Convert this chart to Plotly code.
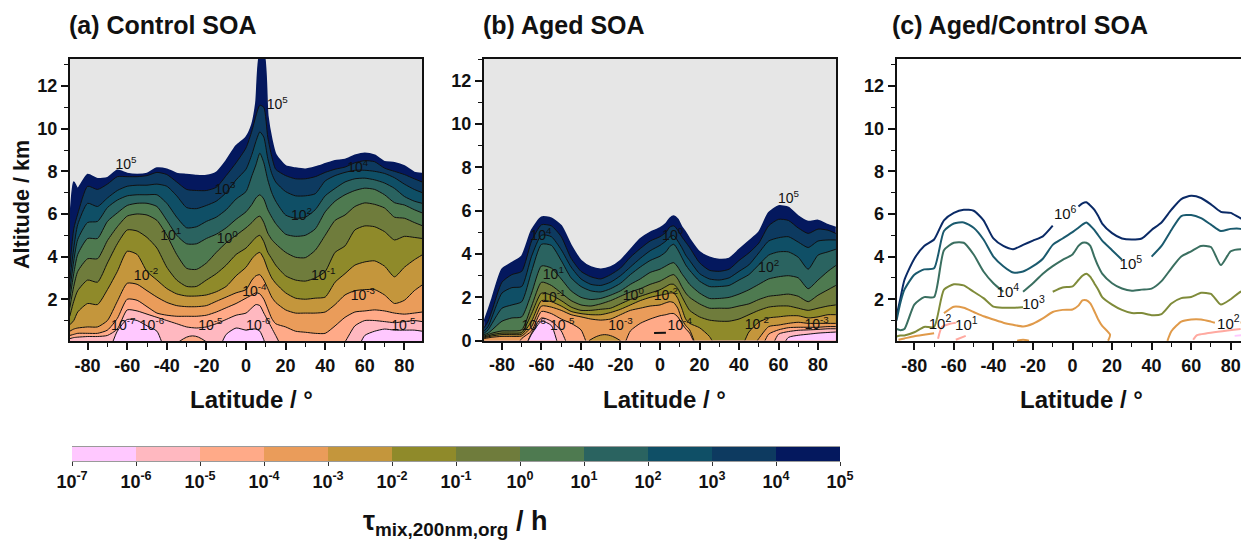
import plotly.graph_objects as go

W, H = 1241, 541
LAT = [-89,-87,-85,-80,-75,-70,-65,-60,-55,-50,-45,-40,-35,-30,-25,-20,-15,-10,-5,0,3,5,7,9,11,13,15,20,25,30,35,40,45,50,55,60,65,70,75,80,85,89]

X_TICKS = [-80,-60,-40,-20,0,20,40,60,80]
X_TICK_TEXT = ["-80","-60","-40","-20","0","20","40","60","80"]
Y_TICKS = [2,4,6,8,10,12]
Y_TICKS_B = [0,2,4,6,8,10,12]
BAR_EXP = [-7,-6,-5,-4,-3,-2,-1,0,1,2,3,4]
BAR_COLORS = ["#ffc8ff","#ffb8c0","#ffaa88","#ea9c5a","#c4963c","#8f8a2a","#6f7c3c","#4e7a50","#2a6360","#0f4f66","#0d3a60","#04185e"]
BAR_TICKS = [-7,-6,-5,-4,-3,-2,-1,0,1,2,3,4,5]

# Panel (a): altitude of each contour level per latitude
A_L5 = [5.5,7.5,7.2,7.85,7.65,7.7,8.05,7.9,7.85,7.9,8.15,8.1,7.9,7.85,7.8,7.8,7.95,8.5,9.2,9.6,10.2,11.2,13.5,13.5,10.6,9.5,8.8,8.25,8.15,8.1,8.2,8.35,8.5,8.55,8.75,8.85,8.75,8.45,8.4,8.25,7.95,7.9]
A_L4 = [3.5,5.3,6.0,7.3,7.15,7.4,7.75,7.75,7.75,7.8,7.95,7.85,7.5,7.15,7.1,7.1,7.25,7.8,8.4,9.1,9.9,10.6,11.1,11.0,9.6,8.7,8.1,7.8,7.65,7.65,7.75,7.95,8.1,8.2,8.4,8.5,8.45,8.15,8.0,7.85,7.65,7.5]
A_L3 = [2.9,4.4,5.5,6.5,6.35,6.75,7.1,7.3,7.35,7.35,7.4,7.3,6.85,6.3,6.25,6.4,6.6,7.0,7.6,8.1,8.8,9.4,9.85,9.6,8.6,7.9,7.5,7.05,6.85,6.85,6.95,7.55,7.8,7.95,8.05,8.05,8.0,7.9,7.7,7.4,7.15,7.0]
A_L2 = [2.4,3.8,4.8,5.6,5.65,6.3,6.65,6.85,6.9,6.9,6.9,6.5,5.85,5.35,5.4,5.65,5.85,6.2,6.7,7.05,7.8,8.3,8.85,8.4,7.6,7.0,6.6,5.95,5.8,5.85,6.2,6.85,7.2,7.5,7.65,7.68,7.6,7.45,7.2,6.82,6.6,6.5]
A_L1 = [2.0,3.2,4.1,4.85,4.85,5.65,6.05,6.4,6.5,6.5,6.35,5.7,5.0,4.6,4.6,4.85,5.05,5.35,5.75,6.1,6.45,6.75,6.9,6.7,6.2,5.85,5.55,5.05,4.95,5.0,5.3,6.1,6.6,6.9,7.1,7.21,7.15,6.9,6.53,6.42,6.2,6.05]
A_L0 = [1.6,2.6,3.3,3.9,3.9,4.75,5.4,5.9,6.0,5.95,5.7,5.0,4.1,3.45,3.4,3.7,4.2,4.65,5.0,5.35,5.6,5.8,5.9,5.6,5.1,4.8,4.6,4.2,3.97,3.95,4.3,5.0,5.7,5.95,6.35,6.52,6.45,6.28,5.85,5.8,5.6,5.45]
A_LM1 = [1.2,1.9,2.4,2.9,2.8,3.7,4.6,5.25,5.2,4.9,4.4,3.5,2.9,2.6,2.6,2.9,3.2,3.6,4.1,4.4,4.7,4.9,5.0,4.7,4.2,3.9,3.6,3.1,2.9,2.85,3.0,3.3,4.2,4.5,5.25,5.44,5.4,5.17,4.78,4.95,4.9,4.85]
A_LM2 = [0.8,1.0,1.4,1.8,1.75,2.45,3.3,4.25,4.1,3.3,2.9,2.5,2.25,2.15,2.15,2.2,2.35,2.6,3.1,3.5,3.9,4.1,4.2,3.9,3.4,3.0,2.75,2.3,2.05,2.0,2.05,2.1,2.8,3.2,3.6,3.75,3.8,3.55,3.05,3.5,3.85,4.08]
A_LM3 = [0.5,0.6,0.65,0.7,0.7,1.0,1.9,2.75,2.7,2.4,2.1,1.85,1.7,1.65,1.65,1.7,1.9,2.1,2.3,2.45,2.9,3.1,3.15,2.9,2.5,2.1,1.85,1.5,1.35,1.35,1.35,1.4,1.75,2.2,2.4,2.45,2.45,2.2,1.8,1.95,2.4,2.67]
A_LM4 = [0.3,0.35,0.4,0.4,0.4,0.55,1.1,2.0,1.95,1.65,1.35,1.25,1.2,1.2,1.2,1.25,1.4,1.6,1.8,2.05,2.2,2.3,2.25,2.0,1.55,1.1,0.85,0.7,0.5,0.45,0.4,0.4,0.75,1.15,1.4,1.45,1.5,1.45,1.35,1.3,1.35,1.4]
A_LM5 = [0.15,0.2,0.22,0.25,0.25,0.3,0.6,1.5,1.45,1.3,1.15,1.0,0.85,0.7,0.65,0.7,0.85,1.05,1.25,1.35,1.6,1.75,1.7,1.35,1.0,0.65,0.3,-0.5,-0.5,-0.5,-0.5,-0.5,-0.5,0.0,0.75,1.0,1.0,0.95,0.9,0.95,1.0,0.95]
A_LM6 = [-0.5,-0.5,-0.5,-0.5,-0.5,-0.5,0.5,1.05,1.0,0.75,0.5,-0.5,-0.5,-0.5,-0.5,-0.5,-0.5,0.35,0.65,0.55,0.6,0.6,0.5,0.1,-0.5,-0.5,-0.5,-0.5,-0.5,-0.5,-0.5,-0.5,-0.5,-0.5,-0.5,0.3,0.5,0.6,0.55,0.55,0.55,0.5]
A_HUMP_LAT = [-34,-30,-27,-24,-20]
A_HUMP_ALT = [0.0,0.22,0.28,0.22,0.0]

# Panel (b)
B_L5 = [0.9,1.4,1.95,3.3,3.6,3.9,5.1,5.7,5.65,5.3,4.4,3.7,3.4,3.3,3.4,3.7,4.2,4.7,5.0,5.2,5.4,5.65,5.75,5.6,5.25,5.0,4.7,4.1,3.85,3.75,3.8,4.2,4.6,5.0,5.9,6.22,6.15,5.75,5.5,5.55,5.35,5.22]
B_L4 = [0.6,0.9,1.4,2.7,3.05,3.2,4.6,5.35,5.3,4.8,3.8,3.2,2.95,2.85,3.05,3.35,3.85,4.25,4.6,4.8,5.0,5.25,5.3,5.1,4.8,4.55,4.3,3.6,3.25,3.2,3.3,3.7,4.05,4.5,5.3,5.6,5.55,5.2,4.95,5.15,5.1,4.95]
B_L3 = [0.45,0.65,1.1,2.2,2.45,2.5,3.9,4.87,4.8,4.2,3.4,2.85,2.6,2.55,2.7,3.0,3.4,3.8,4.15,4.4,4.6,4.8,4.85,4.6,4.3,3.95,3.7,3.1,2.85,2.8,2.9,3.2,3.5,4.05,4.6,4.75,4.8,4.55,4.3,4.6,4.65,4.65]
B_L2 = [0.35,0.5,0.8,1.5,1.65,1.8,3.2,4.45,4.4,3.7,2.9,2.5,2.3,2.25,2.4,2.65,3.05,3.4,3.7,3.9,4.1,4.35,4.45,4.2,3.85,3.5,3.25,2.75,2.5,2.5,2.55,2.8,3.05,3.5,3.95,4.1,4.1,3.85,3.3,3.95,4.1,4.22]
B_L1 = [0.28,0.35,0.5,0.9,1.05,1.1,2.2,3.45,3.35,2.85,2.3,2.0,1.9,1.95,2.1,2.3,2.6,2.85,3.15,3.3,3.45,3.55,3.6,3.4,3.1,2.85,2.6,2.2,1.95,1.95,2.0,2.15,2.35,2.6,2.85,2.95,3.0,2.9,2.4,2.8,3.2,3.47]
B_L0 = [0.22,0.28,0.35,0.45,0.45,0.5,1.6,2.7,2.55,2.2,1.85,1.65,1.6,1.7,1.85,2.05,2.25,2.4,2.6,2.75,2.9,3.0,3.05,2.85,2.5,2.2,2.0,1.7,1.5,1.5,1.5,1.6,1.7,1.9,2.05,2.1,2.15,2.05,1.8,2.1,2.35,2.55]
B_LM1 = [0.18,0.22,0.28,0.35,0.35,0.38,1.25,2.2,2.1,1.85,1.55,1.4,1.4,1.45,1.5,1.7,1.9,2.05,2.2,2.35,2.5,2.6,2.6,2.4,2.05,1.7,1.4,1.1,0.95,0.9,0.9,1.0,1.2,1.4,1.55,1.6,1.6,1.5,1.4,1.5,1.6,1.65]
B_LM2 = [0.14,0.18,0.22,0.28,0.28,0.3,0.9,1.85,1.8,1.6,1.35,1.25,1.2,1.2,1.3,1.45,1.65,1.85,2.0,2.1,2.15,2.2,2.2,1.95,1.5,1.0,0.8,0.6,0.2,-0.5,-0.5,-0.5,0.4,0.85,1.05,1.1,1.15,1.15,1.05,1.1,1.2,1.2]
B_LM3 = [0.1,0.13,0.16,0.2,0.2,0.22,0.65,1.6,1.55,1.4,1.2,1.1,1.0,0.95,1.0,1.2,1.4,1.5,1.6,1.65,1.75,1.8,1.75,1.5,1.0,0.7,0.5,-0.5,-0.5,-0.5,-0.5,-0.5,-0.5,0.1,0.65,0.72,0.8,0.85,0.8,0.8,0.8,0.8]
B_LM4 = [-0.5,-0.5,-0.5,-0.5,-0.5,0.1,0.45,1.35,1.25,1.0,0.8,0.5,-0.5,-0.5,-0.5,-0.5,0.45,0.8,1.0,1.15,1.2,1.25,1.25,1.1,0.8,0.55,0.35,-0.5,-0.5,-0.5,-0.5,-0.5,-0.5,-0.5,0.3,0.5,0.6,0.62,0.62,0.62,0.65,0.65]
B_LM5 = [-0.5,-0.5,-0.5,-0.5,-0.5,-0.5,0.35,1.05,0.9,0.45,-0.5,-0.5,-0.5,-0.5,-0.5,-0.5,-0.5,-0.5,-0.5,-0.5,-0.5,-0.5,-0.5,-0.5,-0.5,-0.5,-0.5,-0.5,-0.5,-0.5,-0.5,-0.5,-0.5,-0.5,-0.5,0.3,0.42,0.48,0.5,0.52,0.55,0.55]
B_LM6 = [-0.5,-0.5,-0.5,-0.5,-0.5,-0.5,0.3,0.9,0.7,-0.5,-0.5,-0.5,-0.5,-0.5,-0.5,-0.5,-0.5,-0.5,-0.5,-0.5,-0.5,-0.5,-0.5,-0.5,-0.5,-0.5,-0.5,-0.5,-0.5,-0.5,-0.5,-0.5,-0.5,-0.5,-0.5,-0.5,0.15,0.25,0.3,0.35,0.38,0.4]
B_HUMP_LAT = [-36,-32,-28,-24,-20]
B_HUMP_ALT = [0.0,0.2,0.28,0.2,0.0]
B_DASH_LAT = [-3,3]
B_DASH_ALT = [0.35,0.37]

# Panel (c)
C_L6 = [1.2,2.05,2.9,3.9,4.5,4.8,5.7,6.05,6.2,6.15,5.7,4.85,4.5,4.35,4.55,4.75,4.95,5.45,None,None,6.35,6.5,6.55,6.4,6.2,5.9,5.55,5.1,4.85,4.8,4.85,5.25,5.6,6.2,6.7,6.85,6.75,6.45,6.1,6.05,5.8,5.7]
C_L5 = [1.0,1.85,2.45,3.15,3.4,3.45,5.2,5.55,5.6,5.35,4.8,4.0,3.55,3.25,3.3,3.55,3.9,4.55,4.85,5.15,5.35,5.5,5.6,5.45,5.25,5.0,4.75,4.3,3.85,None,None,4.0,4.5,5.25,5.9,5.95,5.8,5.5,5.2,5.3,5.3,5.1]
C_L4 = [0.6,0.55,0.6,1.75,2.1,2.1,4.3,4.65,4.65,4.1,3.3,2.75,2.35,None,2.35,2.75,3.2,3.55,3.85,4.1,4.5,4.65,4.65,4.5,4.0,3.55,3.2,2.75,2.5,2.4,2.45,2.5,2.85,3.45,4.0,4.25,4.5,4.45,3.6,4.25,4.35,4.3]
C_L3 = [0.25,0.3,0.3,0.45,0.7,0.7,2.45,2.7,2.65,2.35,2.05,1.65,1.6,1.6,1.62,None,None,2.35,2.55,2.6,2.9,3.1,3.2,3.05,2.75,2.45,2.1,1.75,1.5,1.35,1.35,1.25,1.3,1.8,2.05,2.1,2.3,2.25,1.75,2.0,2.35,2.45]
C_L2A_LAT = [-88,-85,-80,-76,-70]
C_L2A = [0.1,0.16,0.26,0.32,0.4]
C_L2B_LAT = [-65,-60,-55,-50,-45,-40,-35,-30,-25,-20,-15,-10,-5,0,3,5,7,9,11,13,15,19,18]
C_L2B = [1.35,1.65,1.6,1.4,1.2,1.05,0.9,0.8,0.72,0.85,1.1,1.4,1.5,1.52,1.7,1.95,1.95,1.8,1.45,1.05,0.75,0.33,0.05]
C_L2C_LAT = [-28,-25,-22]
C_L2C = [0.05,0.1,0.05]
C_L2D_LAT = [48,50,55,60,65,70,72]
C_L2D = [0.05,0.5,0.95,1.05,1.05,0.95,0.9]
C_L2E_LAT = [85,89]
C_L2E = [0.9,0.95]
C_L1A_LAT = [-68,-66,-62,-59]
C_L1A = [0.15,0.7,0.85,0.9]
C_L1B_LAT = [-59,-54]
C_L1B = [0.1,0.28]
C_L1C_LAT = [61,63,68,85]
C_L1C = [0.1,0.32,0.4,0.6]
C_L0_LAT = [82,86]
C_L0 = [0.28,0.32]

# Contour labels: latitude, altitude, exponent
A_LABEL_LAT = [-60.6,15.8,56.4,-10.6,28,-38,-9.5,39,-50.5,59,4.2,-18,79.5,6.2,-47.5,-62]
A_LABEL_ALT = [8.27,11.1,8.15,7.1,5.9,4.95,4.8,3.05,3.05,2.15,2.3,0.72,0.72,0.72,0.72,0.72]
A_LABEL_EXP = [5,5,4,3,2,1,0,-1,-2,-3,-4,-5,-5,-6,-6,-7]
B_LABEL_LAT = [65,-60.3,6.4,55,-54,-54,-13.5,3,-20,10,49,79.3,-64,-49.5]
B_LABEL_ALT = [6.53,4.8,4.8,3.33,3.03,1.97,2.03,2.03,0.65,0.65,0.72,0.72,0.65,0.65]
B_LABEL_EXP = [5,4,0,2,1,-1,0,-2,-3,-4,-2,-3,-6,-5]
C_LABEL_LAT = [-3.7,29.5,-32.7,-19.7,-67,-53.7,78.8]
C_LABEL_ALT = [5.93,3.6,2.28,1.7,0.8,0.72,0.8]
C_LABEL_EXP = [6,5,4,3,2,1,2]

FONT = "Liberation Sans"
A_LEVELS = [A_L5,A_L4,A_L3,A_L2,A_L1,A_L0,A_LM1,A_LM2,A_LM3,A_LM4,A_LM5,A_LM6]
B_LEVELS = [B_L5,B_L4,B_L3,B_L2,B_L1,B_L0,B_LM1,B_LM2,B_LM3,B_LM4,B_LM5,B_LM6]
BAND_COLORS = BAR_COLORS[::-1]

fig = go.Figure()

def filled(levels, xa, ya):
    for i, (alts, col) in enumerate(zip(levels, BAND_COLORS)):
        fig.add_trace(go.Scatter(
            x=LAT, y=alts, xaxis=xa, yaxis=ya, mode="lines", fill="tozeroy", fillcolor=col,
            line=dict(color=col if i == 0 else "#111111", width=1.6 if i == 0 else 1, shape="spline", smoothing=0.6),
            hoverinfo="skip", showlegend=False))

def labels(lat, alt, exp, xa, ya, size=14):
    fig.add_trace(go.Scatter(
        x=lat, y=alt, xaxis=xa, yaxis=ya, mode="text",
        text=[f"10<sup>{e}</sup>" for e in exp], textposition="middle center",
        textfont=dict(family=FONT, size=size, color="#111111"),
        hoverinfo="skip", showlegend=False, cliponaxis=False))

def seg(x, y, col, width=2):
    fig.add_trace(go.Scatter(x=x, y=y, xaxis="x3", yaxis="y3", mode="lines",
                             line=dict(color=col, width=width, shape="spline", smoothing=0.6),
                             connectgaps=False, hoverinfo="skip", showlegend=False))

filled(A_LEVELS, "x", "y")
fig.add_trace(go.Scatter(x=A_HUMP_LAT, y=A_HUMP_ALT, xaxis="x", yaxis="y", mode="lines", fill="toself",
                         fillcolor="#ffaa88", line=dict(color="#111111", width=1, shape="spline"),
                         hoverinfo="skip", showlegend=False))
labels(A_LABEL_LAT, A_LABEL_ALT, A_LABEL_EXP, "x", "y")

filled(B_LEVELS, "x2", "y2")
fig.add_trace(go.Scatter(x=B_HUMP_LAT, y=B_HUMP_ALT, xaxis="x2", yaxis="y2", mode="lines", fill="toself",
                         fillcolor="#c4963c", line=dict(color="#111111", width=1, shape="spline"),
                         hoverinfo="skip", showlegend=False))
fig.add_trace(go.Scatter(x=B_DASH_LAT, y=B_DASH_ALT, xaxis="x2", yaxis="y2", mode="lines",
                         line=dict(color="#111111", width=2), hoverinfo="skip", showlegend=False))
labels(B_LABEL_LAT, B_LABEL_ALT, B_LABEL_EXP, "x2", "y2")

seg(LAT, C_L6, "#0a2a66")
seg(LAT, C_L5, "#1a5a6e")
seg(LAT, C_L4, "#3a6f60")
seg(LAT, C_L3, "#7f8b3a")
for lat, alt in [(C_L2A_LAT, C_L2A), (C_L2B_LAT, C_L2B), (C_L2C_LAT, C_L2C), (C_L2D_LAT, C_L2D), (C_L2E_LAT, C_L2E)]:
    seg(lat, alt, "#e09a4a")
for lat, alt in [(C_L1A_LAT, C_L1A), (C_L1B_LAT, C_L1B), (C_L1C_LAT, C_L1C)]:
    seg(lat, alt, "#ffa9a0")
seg(C_L0_LAT, C_L0, "#ffc8ff")
labels(C_LABEL_LAT, C_LABEL_ALT, C_LABEL_EXP, "x3", "y3", size=15)

# Colour bar
fig.add_trace(go.Bar(
    x=[1] * len(BAR_EXP), base=BAR_EXP, y=[0] * len(BAR_EXP), orientation="h", width=1,
    marker=dict(color=BAR_COLORS, line=dict(width=0)), xaxis="x4", yaxis="y4",
    hoverinfo="skip", showlegend=False))

TICKFONT = dict(family=FONT, size=18, color="#111111", weight="bold")

def px_x(a, b):
    return [a / W, b / W]

def px_y(top, bottom):
    return [1 - bottom / H, 1 - top / H]

def xaxis(dom, rng, anchor):
    return dict(domain=dom, range=rng, anchor=anchor, automargin=False, tickmode="array", tickvals=X_TICKS, ticktext=X_TICK_TEXT,
                ticks="outside", ticklen=7, tickwidth=1.5, tickcolor="#111111", tickfont=TICKFONT,
                showline=True, linecolor="#111111", linewidth=2, mirror=True, showgrid=False, zeroline=False,
                minor=dict(dtick=10, tick0=0, ticks="outside", ticklen=4, tickwidth=1.2, tickcolor="#111111", showgrid=False))

def yaxis(dom, rng, anchor, vals, mirror=True):
    return dict(domain=dom, range=rng, anchor=anchor, automargin=False, tickmode="array", tickvals=vals, ticktext=[str(v) for v in vals],
                ticks="outside", ticklen=7, tickwidth=1.5, tickcolor="#111111", tickfont=TICKFONT,
                showline=True, linecolor="#111111", linewidth=2, mirror=mirror, showgrid=False, zeroline=False,
                minor=dict(dtick=1, tick0=0, ticks="outside", ticklen=4, tickwidth=1.2, tickcolor="#111111", showgrid=False))

def note(text, x, y, size, **kw):
    return dict(text=text, x=x / W, y=1 - y / H, xref="paper", yref="paper", showarrow=False, xanchor="center", yanchor="middle",
                font=dict(family=FONT, size=size, color="#111111", weight="bold"), **kw)

fig.update_layout(
    width=W, height=H, margin=dict(l=0, r=0, t=0, b=0, autoexpand=False), paper_bgcolor="white", plot_bgcolor="white",
    barmode="overlay", showlegend=False,
    xaxis=xaxis(px_x(70, 422), [-88.9, 88.9], "y"),
    yaxis=yaxis(px_y(59, 341), [0.04, 13.27], "x", Y_TICKS),
    xaxis2=xaxis(px_x(484, 836), [-89.1, 89.1], "y2"),
    yaxis2=yaxis(px_y(59, 340.7), [0, 13], "x2", Y_TICKS_B),
    xaxis3=xaxis(px_x(896.7, 1241), [-88.9, 85.2], "y3"),
    yaxis3=yaxis(px_y(59, 341), [0.04, 13.27], "x3", Y_TICKS, mirror=False),
    xaxis4=dict(domain=px_x(72, 840), range=[-7, 5], anchor="y4", automargin=False, tickmode="array", tickvals=BAR_TICKS,
                ticktext=[f"10<sup>{e}</sup>" for e in BAR_TICKS], ticks="outside", ticklen=4, tickwidth=1,
                tickcolor="#333333", tickfont=dict(family=FONT, size=18, color="#111111", weight="bold"),
                showline=True, linecolor="#9a9a9a", linewidth=1, mirror=True, showgrid=False, zeroline=False),
    yaxis4=dict(domain=px_y(447, 461), range=[-0.5, 0.5], anchor="x4", automargin=False, showticklabels=False, ticks="",
                showline=False, showgrid=False, zeroline=False),
    annotations=[
        note("(a) Control SOA", 162.5, 25, 25),
        note("(b) Aged SOA", 564, 25, 25),
        note("(c) Aged/Control SOA", 1020, 25, 25),
        note("Altitude / km", 22, 205, 21.5, textangle=-90),
        note("Latitude / °", 251, 399, 24),
        note("Latitude / °", 664, 399, 24),
        note("Latitude / °", 1081, 399, 24),
        note("τ<sub>mix,200nm,org</sub> / h", 455, 523, 27),
    ],
    shapes=[
        dict(type="rect", xref="x domain", yref="y domain", x0=0, x1=1, y0=0, y1=1, fillcolor="#e6e6e6", line_width=0, layer="below"),
        dict(type="rect", xref="x2 domain", yref="y2 domain", x0=0, x1=1, y0=0, y1=1, fillcolor="#e6e6e6", line_width=0, layer="below"),
    ],
)
fig.write_html("out.html", config={"displayModeBar": False},
               post_script="document.body.style.margin='0';document.body.style.overflow='hidden';")
